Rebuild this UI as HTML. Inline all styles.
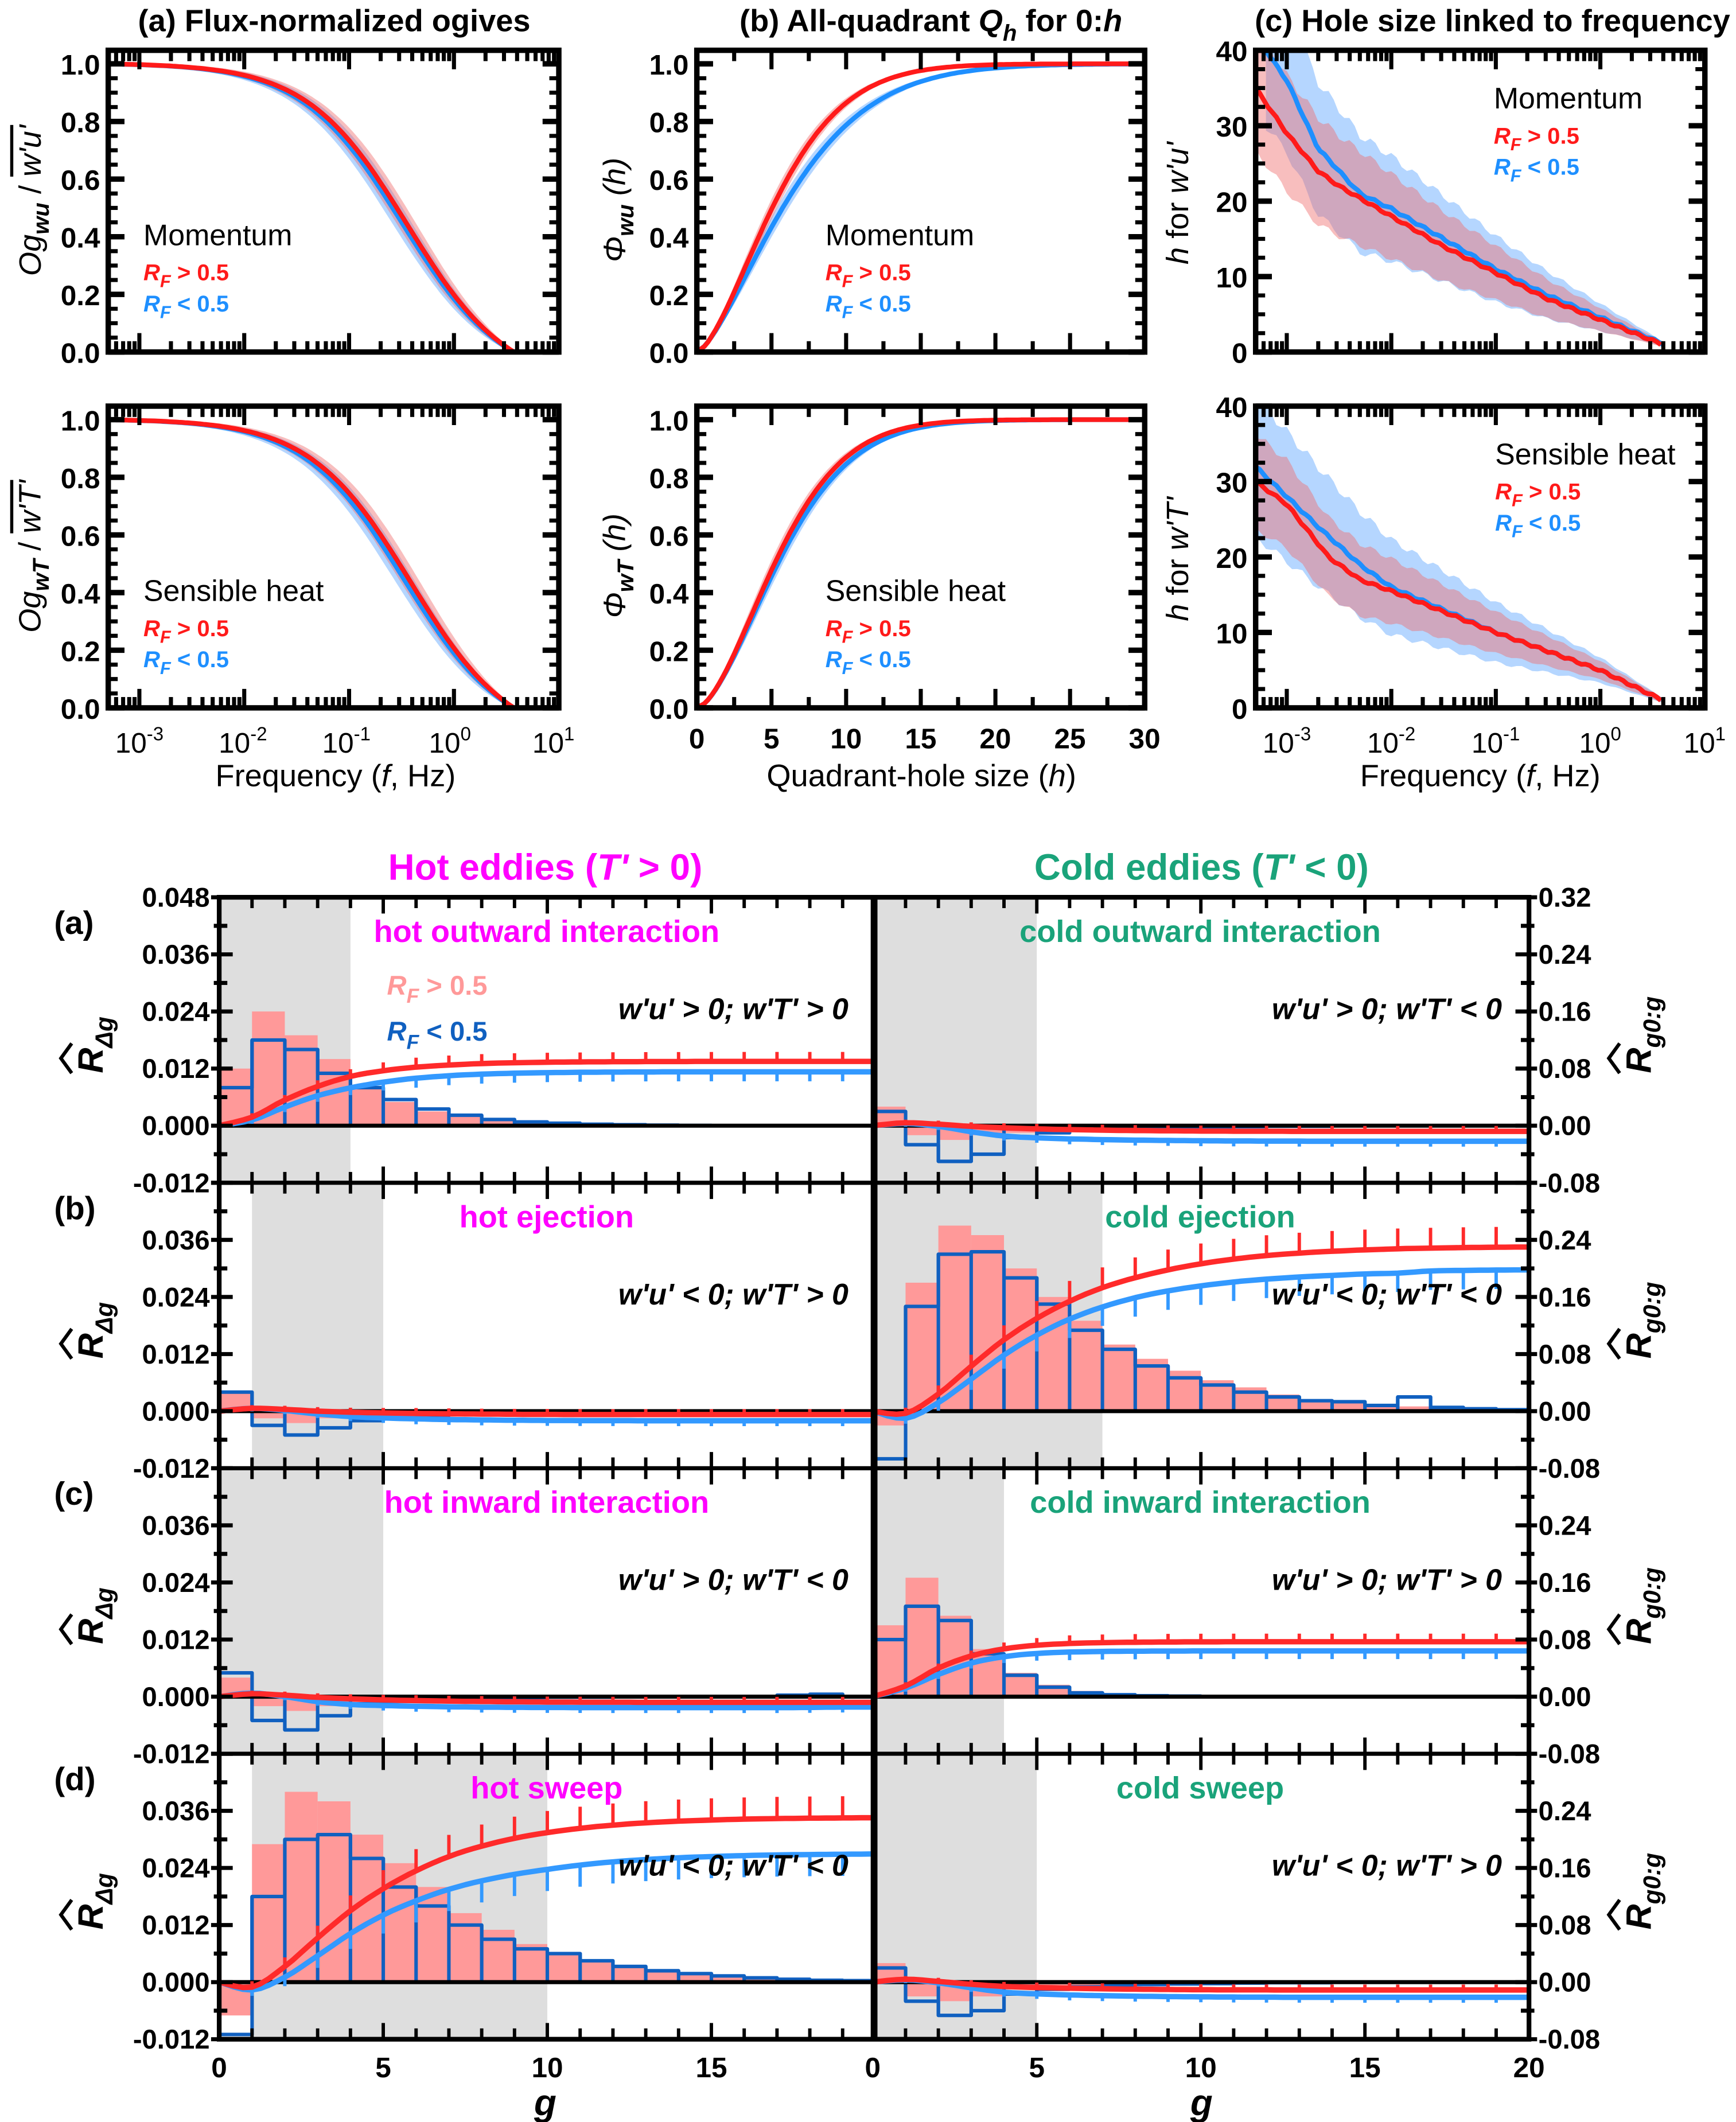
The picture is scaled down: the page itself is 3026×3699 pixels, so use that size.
<!DOCTYPE html>
<html><head><meta charset="utf-8"><style>html,body{margin:0;padding:0;background:#fff}svg{display:block}text{font-family:"Liberation Sans",Arial,sans-serif}</style></head>
<body>
<svg id="s" xmlns="http://www.w3.org/2000/svg" width="3026" height="3699" viewBox="0 0 1283 1568"></svg>
<script>
const out=[];
function P(s){out.push(s);}
function line(x1,y1,x2,y2,c,w){P(`<line x1="${x1}" y1="${y1}" x2="${x2}" y2="${y2}" stroke="${c}" stroke-width="${w}"/>`);}
function T(x,y,t,o){o=o||{};P(`<text x="${x}" y="${y}" font-size="${o.s||22}" ${o.b?'font-weight="bold"':''} ${o.i?'font-style="italic"':''} fill="${o.c||'#000'}" text-anchor="${o.a||'start'}" ${o.r?`transform="rotate(${o.r} ${x} ${y})"`:''}>${t}</text>`);}
function poly(pts,c,w){P(`<polyline points="${pts.map(p=>p[0].toFixed(1)+','+p[1].toFixed(1)).join(' ')}" fill="none" stroke="${c}" stroke-width="${w}" stroke-linejoin="round"/>`);}
function band(up,lo,c){const pts=up.concat(lo.slice().reverse());P(`<polygon points="${pts.map(p=>p[0].toFixed(1)+','+p[1].toFixed(1)).join(' ')}" fill="${c}"/>`);}
const RED='#ff1a1a',BLUE='#1e8fff',RB='rgba(240,110,110,0.45)',BB='rgba(90,165,255,0.45)';

function topPanel(x0,x1,yT,yB,kind,ymax){
  if(ymax===1){
    for(let v=0;v<=1.0001;v+=0.05){const y=yB-v*213;const maj=Math.abs(v*5-Math.round(v*5))<1e-6;const L=maj?12:7;
      line(x0,y,x0+L,y,'#000',maj?4:3);line(x1,y,x1-L,y,'#000',maj?4:3);
      if(maj)T(x0-6,y+8,v.toFixed(1),{s:21,b:1,a:'end'});}
  }else{
    for(let v=0;v<=40;v+=2.5){const y=yB-v/40*(yB-yT);const maj=v%10===0;const L=maj?12:7;
      line(x0,y,x0+L,y,'#000',maj?4:3);line(x1,y,x1-L,y,'#000',maj?4:3);
      if(maj)T(x0-6,y+8,String(v),{s:21,b:1,a:'end'});}
  }
  if(kind==='log'){
    const dx=(x1-x0-23)/4, xa=x0+23;
    for(let d=-4;d<=1;d++){for(let m=1;m<10;m++){const x=xa+(d+3+Math.log10(m))*dx;if(x<x0+2||x>x1-2)continue;const L=m===1?14:8;
      line(x,yB,x,yB-L,'#000',3);line(x,yT,x,yT+L,'#000',3);}}
  }else{
    const dx=(x1-x0)/30;
    for(let h=0;h<=30;h+=2.5){const x=x0+h*dx;const maj=h%5===0;const L=maj?14:8;line(x,yB,x,yB-L,'#000',3);line(x,yT,x,yT+L,'#000',3);}
  }
  P(`<rect x="${x0}" y="${yT}" width="${x1-x0}" height="${yB-yT}" fill="none" stroke="#000" stroke-width="4"/>`);
}
function ogive(c,lx){const s=0.4866;const f=x=>1/(1+Math.exp((x-c)/s));const a=f(-3.35),b=f(0.62);let v=(f(lx)-b)/(a-b);return Math.max(0,Math.min(1,v));}
function drawOg(x0,yB,cR,cB){
  const xa=x0+23,dx=76.5;const X=l=>xa+(l+3)*dx;
  for(const [c,col,bc] of [[cB,BLUE,BB],[cR,RED,RB]]){
    const up=[],lo=[];
    for(let l=-3.25;l<=0.62;l+=0.03){const v=ogive(c,l);const e=0.05*4*v*(1-v)+0.005;up.push([X(l),yB-Math.min(1,v+e)*213]);lo.push([X(l),yB-Math.max(0,v-e)*213]);}
    band(up,lo,bc);
  }
  for(const [c,col] of [[cB,BLUE],[cR,RED]]){const m=[];for(let l=-3.25;l<=0.62;l+=0.03){m.push([X(l),yB-ogive(c,l)*213]);}poly(m,col,3.5);}
}
function drawPhi(x0,yB,pr,pb){
  const X=h=>x0+h*11.03;
  const F=(h,a,b)=>1-Math.exp(-Math.pow(h/a,b));
  for(const [p,col,bc] of [[pb,BLUE,BB],[pr,RED,RB]]){const up=[],lo=[];
    for(let h=0.5;h<=30;h+=0.25){const v=F(h,p[0],p[1]);const e=0.035*4*v*(1-v);up.push([X(h),yB-Math.min(1,v+e)*213]);lo.push([X(h),yB-Math.max(0,v-e)*213]);}
    band(up,lo,bc);}
  for(const [p,col] of [[pb,BLUE],[pr,RED]]){const m=[[X(0),yB]];for(let h=0.5;h<=30;h+=0.25){m.push([X(h),yB-F(h,p[0],p[1])*213]);}poly(m,col,3.5);}
}
function interp(pts,x){for(let i=0;i<pts.length-1;i++){if(x>=pts[i][0]&&x<=pts[i+1][0]){const t=(x-pts[i][0])/(pts[i+1][0]-pts[i][0]);return pts[i][1]+t*(pts[i+1][1]-pts[i][1]);}}return pts[pts.length-1][1];}
function drawH(x0,yT,yB,red,blue,bw){
  const xa=x0+23,dx=77.2;const X=l=>xa+(l+3)*dx;const Y=h=>yB-Math.min(40,Math.max(0,h))/40*(yB-yT);
  for(const [d,bc,w] of [[blue,BB,bw[1]],[red,RB,bw[0]]]){const up=[],lo=[];
    for(let l=d[0][0];l<=d[d.length-1][0];l+=0.05){const v=interp(d,l);const e=w*Math.max(0,(0.6-l))/3.9+0.3;up.push([X(l),Y(v+e*(1+0.08*Math.sin(l*31)))]);lo.push([X(l),Y(v-e*(1+0.06*Math.sin(l*27)))]);}
    band(up,lo,bc);}
  for(const [d,col] of [[blue,BLUE],[red,RED]]){const m=[];for(let l=d[0][0];l<=d[d.length-1][0];l+=0.04){m.push([X(l),Y(interp(d,l)+0.15*Math.sin(l*40))]);}poly(m,col,3.5);}
}
function legend(x,y,title,gap){T(x,y,title,{s:22});
  P(`<text x="${x}" y="${y+gap}" font-size="17" fill="${RED}" font-weight="bold"><tspan font-style="italic">R</tspan><tspan font-style="italic" dy="5" font-size="13">F</tspan><tspan dy="-5"> &gt; 0.5</tspan></text>`);
  P(`<text x="${x}" y="${y+2*gap-3}" font-size="17" fill="${BLUE}" font-weight="bold"><tspan font-style="italic">R</tspan><tspan font-style="italic" dy="5" font-size="13">F</tspan><tspan dy="-5"> &lt; 0.5</tspan></text>`);}

T(247,23,'(a) Flux-normalized ogives',{s:23,b:1,a:'middle'});
P(`<text x="688" y="23" font-size="23" font-weight="bold" text-anchor="middle">(b) All-quadrant <tspan font-style="italic">Q</tspan><tspan font-style="italic" dy="7" font-size="17">h</tspan><tspan dy="-7"> for 0:</tspan><tspan font-style="italic">h</tspan></text>`);
T(1103,23,'(c) Hole size linked to frequency',{s:23,b:1,a:'middle'});

drawOg(80,260,-0.41,-0.46);topPanel(80,413,37,260,'log',1);
drawOg(80,523,-0.38,-0.44);topPanel(80,413,300,523,'log',1);
legend(106,181,'Momentum',26);legend(106,444,'Sensible heat',26);
drawPhi(515,260,[6.4,1.55],[7.4,1.45]);topPanel(515,846,37,260,'lin',1);
drawPhi(515,523,[6.5,1.65],[6.8,1.62]);topPanel(515,846,300,523,'lin',1);
legend(610,181,'Momentum',26);legend(610,444,'Sensible heat',26);
const hr1=[[-3.3,35],[-3,29],[-2.7,24],[-2.5,22],[-2,18],[-1.5,14],[-1,10.5],[-0.5,7],[0,4.3],[0.6,1]];
const hb1=[[-3.2,40],[-3,36],[-2.7,27],[-2.5,24],[-2.3,21],[-2,19],[-1.5,15],[-1,11],[-0.5,7.5],[0,4.6],[0.62,1]];
drawH(928,37,260,hr1,hb1,[8,10]);topPanel(928,1260,37,260,'log',40);
const hr2=[[-3.3,30],[-3,27],[-2.6,20],[-2.3,17],[-2,15.5],[-1,10],[0,5],[0.6,1]];
const hb2=[[-3.3,32],[-3,28],[-2.7,24],[-2.3,19],[-2,16],[-1,10],[0,5],[0.6,1]];
drawH(928,300,523,hr2,hb2,[6,9]);topPanel(928,1260,300,523,'log',40);
legend(1104,80,'Momentum',26);legend(1105,343,'Sensible heat',26);

P(`<text x="30" y="148" font-size="23" text-anchor="middle" transform="rotate(-90 30 148)"><tspan font-style="italic">Og</tspan><tspan font-style="italic" font-weight="bold" dy="6" font-size="17">wu</tspan><tspan dy="-6"> / </tspan><tspan font-style="italic" text-decoration="overline">w'u'</tspan></text>`);
P(`<text x="30" y="411" font-size="23" text-anchor="middle" transform="rotate(-90 30 411)"><tspan font-style="italic">Og</tspan><tspan font-style="italic" font-weight="bold" dy="6" font-size="17">wT</tspan><tspan dy="-6"> / </tspan><tspan font-style="italic" text-decoration="overline">w'T'</tspan></text>`);
P(`<text x="462" y="155" font-size="23" text-anchor="middle" transform="rotate(-90 462 155)"><tspan font-style="italic">Φ</tspan><tspan font-style="italic" font-weight="bold" dy="6" font-size="17">wu</tspan><tspan dy="-6" font-style="italic"> (h)</tspan></text>`);
P(`<text x="462" y="418" font-size="23" text-anchor="middle" transform="rotate(-90 462 418)"><tspan font-style="italic">Φ</tspan><tspan font-style="italic" font-weight="bold" dy="6" font-size="17">wT</tspan><tspan dy="-6" font-style="italic"> (h)</tspan></text>`);
P(`<text x="878" y="150" font-size="23" text-anchor="middle" transform="rotate(-90 878 150)"><tspan font-style="italic">h</tspan> for <tspan font-style="italic">w'u'</tspan></text>`);
P(`<text x="878" y="413" font-size="23" text-anchor="middle" transform="rotate(-90 878 413)"><tspan font-style="italic">h</tspan> for <tspan font-style="italic">w'T'</tspan></text>`);
function logLabels(xa,dx){for(let d=-3;d<=1;d++){const x=xa+(d+3)*dx;P(`<text x="${x}" y="556" font-size="21" text-anchor="middle">10<tspan dy="-9" font-size="14">${d}</tspan></text>`);}}
logLabels(103,76.5);logLabels(951,77.2);
for(let h=0;h<=30;h+=5)T(515+h*11.03,553,String(h),{s:21,b:1,a:'middle'});
P(`<text x="248" y="581" font-size="23" text-anchor="middle">Frequency (<tspan font-style="italic">f</tspan>, Hz)</text>`);
P(`<text x="681" y="581" font-size="23" text-anchor="middle">Quadrant-hole size (<tspan font-style="italic">h</tspan>)</text>`);
P(`<text x="1094" y="581" font-size="23" text-anchor="middle">Frequency (<tspan font-style="italic">f</tspan>, Hz)</text>`);

const MAG='#ff00ff',GRN='#1aa37a';
P(`<text x="403" y="650" font-size="27" font-weight="bold" fill="${MAG}" text-anchor="middle">Hot eddies (<tspan font-style="italic">T'</tspan> &gt; 0)</text>`);
P(`<text x="888" y="650" font-size="27" font-weight="bold" fill="${GRN}" text-anchor="middle">Cold eddies (<tspan font-style="italic">T'</tspan> &lt; 0)</text>`);
const PY=42.2/0.012;
const rowsB=[663,874,1085,1296];
const data=[
 [{sh:[0,4],r:[12,24,19,14,8,5,3,2,1.2,0.7,0.4,0.3,0.2,0.1,0.1,0.05,0,0,0,0],b:[8,18,16,11,8,5.5,3.5,2.2,1.3,0.8,0.5,0.3,0.2,0.1,0.05,0,0,0,0,0],lab:'hot outward interaction',cond:"w'u' &gt; 0; w'T' &gt; 0",col:MAG,e:[5,5]},
  {sh:[0,5],r:[4,-2,-3,-2,-1.5,-1,-0.8,-0.5,-0.4,-0.3,-0.2,-0.1,-0.1,-0.1,0,0,0,0,0,0],b:[3,-4,-7.5,-6,-2.5,-1.5,-1,-0.7,-0.5,-0.4,-0.3,-0.2,-0.1,-0.1,0,0,0,0,0,0],lab:'cold outward interaction',cond:"w'u' &gt; 0; w'T' &lt; 0",col:GRN,e:[2,2]}],
 [{sh:[1,5],r:[4,-1.5,-2.5,-1.5,-1,-0.7,-0.5,-0.4,-0.3,-0.2,-0.1,-0.1,0,0,0,0,0,0,0,0],b:[4,-3,-5,-3.5,-2,-1.3,-0.9,-0.6,-0.4,-0.3,-0.2,-0.1,-0.1,0,0,0,0,0,0,0],lab:'hot ejection',cond:"w'u' &lt; 0; w'T' &gt; 0",col:MAG,e:[2,2]},
  {sh:[0,7],r:[-3,27,39,37,30,24,19,14,11,8.5,6.5,5,3.5,2.5,2,1.5,1,0.7,0.5,0.3],b:[-10,22,33,33.5,28,22.5,17,13,9.5,7,5.5,4,3,2.2,2,1.2,3,0.8,0.5,0.3],lab:'cold ejection',cond:"w'u' &lt; 0; w'T' &lt; 0",col:GRN,e:[13,12]}],
 [{sh:[0,5],r:[4,-2,-3,-2,-1.5,-1,-0.8,-0.5,-0.4,-0.3,-0.2,-0.1,-0.1,0,0,0,0,0,0,0],b:[5,-5,-7,-4,-1.5,-1,-0.7,-0.5,-0.3,-0.2,-0.1,-0.1,0,0,0,0,0,0.3,0.5,0],lab:'hot inward interaction',cond:"w'u' &gt; 0; w'T' &lt; 0",col:MAG,e:[2,2]},
  {sh:[0,4],r:[15,25,17,10,5,2.5,1.2,0.6,0.3,0.2,0.1,0,0,0,0,0,0,0,0,0],b:[12,19,16,9,4.5,2,0.8,0.4,0.2,0.1,0,0,0,0,0,0,0,0,0,0],lab:'cold inward interaction',cond:"w'u' &gt; 0; w'T' &gt; 0",col:GRN,e:[4,4]}],
 [{sh:[1,10],r:[-7,29,40,38,31,25,20,14.5,11,8,6,4.5,3.2,2.3,1.7,1.2,0.8,0.5,0.4,0.3],b:[-11,18,30,31,26,20,16,12,9,7,6,4.5,3.3,2.4,1.8,1.3,0.9,0.6,0.4,0.3],lab:'hot sweep',cond:"w'u' &lt; 0; w'T' &lt; 0",col:MAG,e:[14,14]},
  {sh:[0,5],r:[4,-3,-4,-3,-1.5,-1,-0.8,-0.6,-0.4,-0.3,-0.2,-0.1,-0.1,0,0,0,0,0,0,0],b:[3,-4,-7,-6,-2.5,-1.5,-1,-0.7,-0.5,-0.4,-0.3,-0.2,-0.1,-0.1,0,0,0,0,0,0],lab:'cold sweep',cond:"w'u' &lt; 0; w'T' &gt; 0",col:GRN,e:[2,2]}]
];
const LET=['(a)','(b)','(c)','(d)'];
function hatLabel(cx,cy,sub){
  P(`<g transform="translate(${cx},${cy}) rotate(-90)"><text x="-30" y="0" font-size="26" font-weight="bold" font-style="italic">R<tspan dy="7" font-size="18">${sub}</tspan></text><polyline points="-30,-23 -19,-31 -8,-23" fill="none" stroke="#000" stroke-width="2.6"/></g>`);
}
for(let r=0;r<4;r++){
  const yT=rowsB[r],yB=yT+211,y0=yB-42.2;
  for(let c=0;c<2;c++){
    const x0=c?645:162,dx=24.25;const X=g=>x0+g*dx;
    const d=data[r][c];
    P(`<rect x="${X(d.sh[0])}" y="${yT}" width="${(d.sh[1]-d.sh[0])*dx}" height="211" fill="#dedede"/>`);
    for(let i=0;i<20;i++){const v=d.r[i]*0.001*PY;if(Math.abs(v)<0.3)continue;P(`<rect x="${X(i)}" y="${Math.min(y0,y0-v)}" width="${dx}" height="${Math.abs(v)}" fill="#ff9999"/>`);}
    let pts=[];for(let i=0;i<20;i++){const v=y0-d.b[i]*0.001*PY;pts.push([X(i),v],[X(i+1),v]);}
    poly([[X(0),y0]].concat(pts),'#1060c0',2.6);
    for(let i=1;i<20;i++){const a=y0-d.b[i-1]*0.001*PY,b=y0-d.b[i]*0.001*PY;if(Math.abs(d.b[i-1])>0.5||Math.abs(d.b[i])>0.5)line(X(i),y0,X(i),(Math.abs(d.b[i-1])>Math.abs(d.b[i])?a:b),'#1060c0',2.6);}
    line(x0,y0,x0+485,y0,'#000',3);
    const RPY=42.2/0.08;
    for(const [arr,col,dir,e] of [[d.b,'#3399ff',1,d.e[1]],[d.r,'#ff2a2a',-1,d.e[0]]]){
      let s=0;const m=[[X(0),y0]];for(let i=0;i<20;i++){s+=arr[i]*0.001;m.push([X(i+1),y0-s*RPY]);}
      const sm=[];for(let k=0;k<m.length-1;k++){for(let t=0;t<1;t+=0.25){const p0=m[Math.max(0,k-1)],p1=m[k],p2=m[k+1],p3=m[Math.min(m.length-1,k+2)];const t2=t*t,t3=t2*t;
        const f=(a,b,c,dd)=>0.5*((2*b)+(-a+c)*t+(2*a-5*b+4*c-dd)*t2+(-a+3*b-3*c+dd)*t3);sm.push([f(p0[0],p1[0],p2[0],p3[0]),f(p0[1],p1[1],p2[1],p3[1])]);}}
      sm.push(m[m.length-1]);poly(sm,col,4);
      for(let i=1;i<20;i++){const len=e*Math.min(1,i/6)+2;line(X(i),m[i][1],X(i),m[i][1]+dir*len,col,2.5);}
    }
    for(let g=0;g<=20;g++){const maj=g%5===0;const L=maj?12:8;line(X(g),yT,X(g),yT+L,'#000',2.5);line(X(g),yB,X(g),yB-L,'#000',2.5);}
    for(let k=0;k<=10;k++){const y=yB-k*21.1;const maj=k%2===0;
      if(c===0){line(162,y,162+(maj?10:6),y,'#000',3);line(162,y,162-(maj?6:4),y,'#000',3);}
      else{line(1130,y,1130-(maj?10:6),y,'#000',3);line(1130,y,1130+(maj?6:4),y,'#000',3);}}
    T(x0+242,yT+33,d.lab,{s:23,b:1,c:d.col,a:'middle'});
    P(`<text x="${x0+465}" y="${yT+90}" font-size="22" font-weight="bold" font-style="italic" text-anchor="end">${d.cond}</text>`);
  }
  const vals=['0.048','0.036','0.024','0.012','0.000','-0.012'],rv=['0.32','0.24','0.16','0.08','0.00','-0.08'];
  for(let k=0;k<6;k++){const y=yT+k*42.2+7;if(r>0&&k===0)continue;T(155,y,vals[k],{s:20,b:1,a:'end'});T(1137,y,rv[k],{s:20,b:1});}
  T(40,yT+27,LET[r],{s:24,b:1});
  hatLabel(76,yT+100,'Δg');
  hatLabel(1220,yT+100,'g0:g');
  for(let c=0;c<2;c++){const x0=c?645:162;P(`<rect x="${x0}" y="${yT}" width="485" height="211" fill="none" stroke="#000" stroke-width="3"/>`);}
}
P(`<rect x="162" y="663" width="968" height="844" fill="none" stroke="#000" stroke-width="3.5"/>`);
P(`<text x="286" y="735" font-size="20" fill="#ff9999" font-weight="bold"><tspan font-style="italic">R</tspan><tspan font-style="italic" dy="6" font-size="15">F</tspan><tspan dy="-6"> &gt; 0.5</tspan></text>`);
P(`<text x="286" y="769" font-size="20" fill="#1060c0" font-weight="bold"><tspan font-style="italic">R</tspan><tspan font-style="italic" dy="6" font-size="15">F</tspan><tspan dy="-6"> &lt; 0.5</tspan></text>`);
for(const x0 of [162,645]){for(let g=0;g<=20;g+=5){if(x0===162&&g===20)continue;T(x0+g*24.25,1535,String(g),{s:21,b:1,a:'middle'});}}
T(403,1563,'g',{s:27,b:1,i:1,a:'middle'});T(888,1563,'g',{s:27,b:1,i:1,a:'middle'});
document.getElementById('s').innerHTML=out.join('');
</script>
</body></html>
